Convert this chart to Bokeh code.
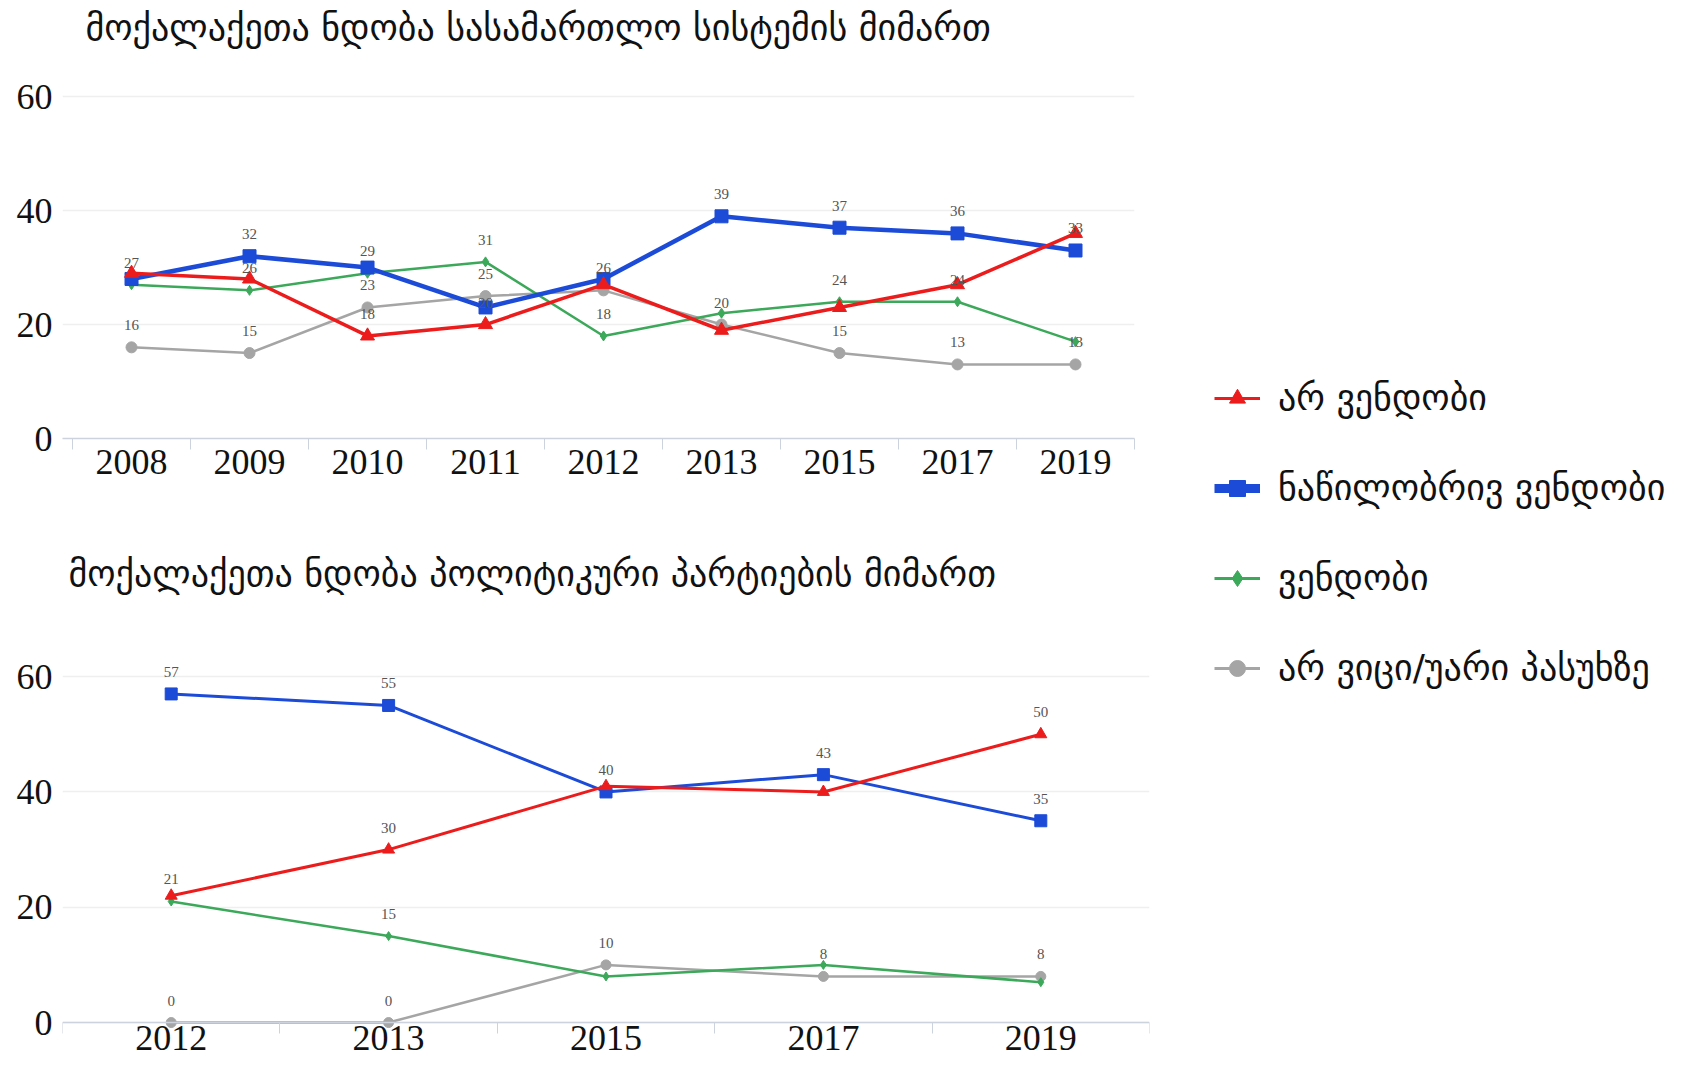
from bokeh.plotting import figure
from bokeh.models import (ColumnDataSource, LabelSet, Label, FixedTicker, Range1d,
                          Legend, LegendItem)
from bokeh.layouts import row, column
from bokeh.embed import file_html
from bokeh.resources import INLINE

# ---------------- data ----------------
series_names = ["არ ვენდობი", "ნაწილობრივ ვენდობი", "ვენდობი", "არ ვიცი/უარი პასუხზე"]

title_top = "მოქალაქეთა ნდობა სასამართლო სისტემის მიმართ"
years_top = ["2008", "2009", "2010", "2011", "2012", "2013", "2015", "2017", "2019"]
top_no_trust = [29, 28, 18, 20, 27, 19, 23, 27, 36]
top_partial = [28, 32, 30, 23, 28, 39, 37, 36, 33]
top_trust = [27, 26, 29, 31, 18, 22, 24, 24, 17]
top_dk = [16, 15, 23, 25, 26, 20, 15, 13, 13]
# data labels that are visible in the original chart (None = hidden)
top_lbl_no_trust = [None, None, 18, 20, None, None, None, None, None]
top_lbl_partial = [None, 32, None, None, None, 39, 37, 36, 33]
top_lbl_trust = [27, 26, 29, 31, 18, None, 24, 24, None]
top_lbl_dk = [16, 15, 23, 25, 26, 20, 15, 13, 13]

title_bot = "მოქალაქეთა ნდობა პოლიტიკური პარტიების მიმართ"
years_bot = ["2012", "2013", "2015", "2017", "2019"]
bot_no_trust = [22, 30, 41, 40, 50]
bot_partial = [57, 55, 40, 43, 35]
bot_trust = [21, 15, 8, 10, 7]
bot_dk = [0, 0, 10, 8, 8]
bot_lbl_no_trust = [None, 30, None, None, 50]
bot_lbl_partial = [57, 55, 40, 43, 35]
bot_lbl_trust = [21, 15, None, None, None]
bot_lbl_dk = [0, 0, 10, 8, 8]

y_ticks = [0, 20, 40, 60]

# ---------------- styles ----------------
RED = "#ec1c1c"
BLUE = "#1c4bd8"
GREEN = "#3ca85a"
GRAY = "#a5a5a5"
GEO_FONT = "DejaVu Sans"
NUM_FONT = "Liberation Serif"
LBL_FONT = "Open Sans"


def make_chart(years, vals, lbls, title, fw, fh, xr, yr, bl, bt, bb, br,
               title_x, title_y, xfont, xstandoff, fixed_axis,
               line_widths, marker_sizes):
    n = len(years)
    p = figure(frame_width=fw, frame_height=fh, output_backend="svg",
               toolbar_location=None, x_range=Range1d(*xr), y_range=Range1d(*yr),
               min_border_left=bl, min_border_top=bt, min_border_bottom=bb,
               min_border_right=br, outline_line_color=None,
               background_fill_color="white", border_fill_color="white")
    xs = list(range(n))
    # x axis
    xa = p.xaxis[0]
    if fixed_axis:
        xa.fixed_location = 0
    xa.ticker = FixedTicker(ticks=xs, minor_ticks=[i - 0.5 for i in range(n + 1)])
    xa.major_label_overrides = {i: y for i, y in enumerate(years)}
    xa.major_label_text_font = NUM_FONT
    xa.major_label_text_font_size = xfont
    xa.major_label_text_color = "#111111"
    xa.major_label_standoff = xstandoff
    xa.major_tick_in = 0
    xa.major_tick_out = 0
    xa.minor_tick_in = 0
    xa.minor_tick_out = 11
    xa.minor_tick_line_color = "#ccd3dd"
    xa.axis_line_color = "#ccd3dd"
    xa.axis_line_width = 1.5
    # y axis
    ya = p.yaxis[0]
    ya.ticker = FixedTicker(ticks=y_ticks)
    ya.major_label_text_font = NUM_FONT
    ya.major_label_text_font_size = "36px"
    ya.major_label_text_color = "#111111"
    ya.axis_line_color = None
    ya.major_tick_line_color = None
    ya.minor_tick_line_color = None
    ya.major_tick_out = 0
    ya.major_tick_in = 0
    ya.minor_tick_out = 0
    ya.major_label_standoff = 10
    p.xgrid.grid_line_color = None
    p.ygrid.grid_line_color = "#efefef"
    p.ygrid.grid_line_width = 1.5

    colors = [RED, BLUE, GREEN, GRAY]
    markers = ["triangle", "square", "diamond", "circle"]
    order = [3, 2, 1, 0]
    for k in order:
        src = ColumnDataSource(dict(x=xs, y=vals[k]))
        p.line("x", "y", source=src, line_color=colors[k], line_width=line_widths[k])
        p.scatter("x", "y", source=src, marker=markers[k], size=marker_sizes[k],
                  fill_color=colors[k], line_color=colors[k])
    for k in order:
        lx = [i for i in xs if lbls[k][i] is not None]
        ly = [vals[k][i] for i in lx]
        lt = [str(lbls[k][i]) for i in lx]
        lsrc = ColumnDataSource(dict(x=lx, y=ly, t=lt))
        p.add_layout(LabelSet(x="x", y="y", text="t", source=lsrc,
                              text_font=LBL_FONT, text_font_size="15px",
                              text_color="#555555", text_align="center",
                              text_baseline="middle", y_offset=22))
    p.add_layout(Label(x=title_x, y=title_y, x_units="screen", y_units="screen",
                       text=title, text_font=GEO_FONT, text_font_size="36px",
                       text_color="#111111", text_align="left",
                       text_baseline="middle"))
    return p


top = make_chart(years_top, [top_no_trust, top_partial, top_trust, top_dk],
                 [top_lbl_no_trust, top_lbl_partial, top_lbl_trust, top_lbl_dk],
                 title_top, 1072, 433, (-0.585, 8.5), (0, 76),
                 62, 5, 86, 56, 23, 411, "36px", 0, False,
                 [3.5, 4.5, 2.5, 2.5], [14, 13, 10, 11])
bot = make_chart(years_bot, [bot_no_trust, bot_partial, bot_trust, bot_dk],
                 [bot_lbl_no_trust, bot_lbl_partial, bot_lbl_trust, bot_lbl_dk],
                 title_bot, 1087, 533, (-0.5, 4.5), (-7.45, 85),
                 62, 8, 0, 41, 6, 492, "36px", -8, True,
                 [3, 3, 2.5, 2.5], [12, 12, 9, 10])

# legend panel
lg = figure(width=512, height=1064, output_backend="svg", toolbar_location=None,
            x_range=Range1d(0, 1), y_range=Range1d(0, 1), min_border=0,
            outline_line_color=None)
lg.axis.visible = False
lg.grid.grid_line_color = None
leg_colors = [RED, BLUE, GREEN, GRAY]
leg_markers = ["triangle", "square", "diamond", "circle"]
leg_lw = [3, 9, 3, 3]
leg_ms = [17, 20, 13, 14]
items = []
for k, name in enumerate(series_names):
    src = ColumnDataSource(dict(x=[5], y=[5]))
    r1 = lg.line("x", "y", source=src, line_color=leg_colors[k], line_width=leg_lw[k])
    r2 = lg.scatter("x", "y", source=src, marker=leg_markers[k], size=leg_ms[k],
                    fill_color=leg_colors[k], line_color=leg_colors[k])
    items.append(LegendItem(label=name, renderers=[r1, r2]))
legend = Legend(items=items, location=(24, 376), padding=0, margin=0,
                border_line_color=None, background_fill_alpha=0,
                glyph_width=46, glyph_height=40, label_height=40,
                label_standoff=18, spacing=49,
                label_text_font=GEO_FONT, label_text_font_size="36px",
                label_text_color="#111111", label_text_baseline="middle")
lg.add_layout(legend, "center")

layout = row(column(top, bot), lg)
open("out.html", "w").write(file_html(layout, INLINE))
